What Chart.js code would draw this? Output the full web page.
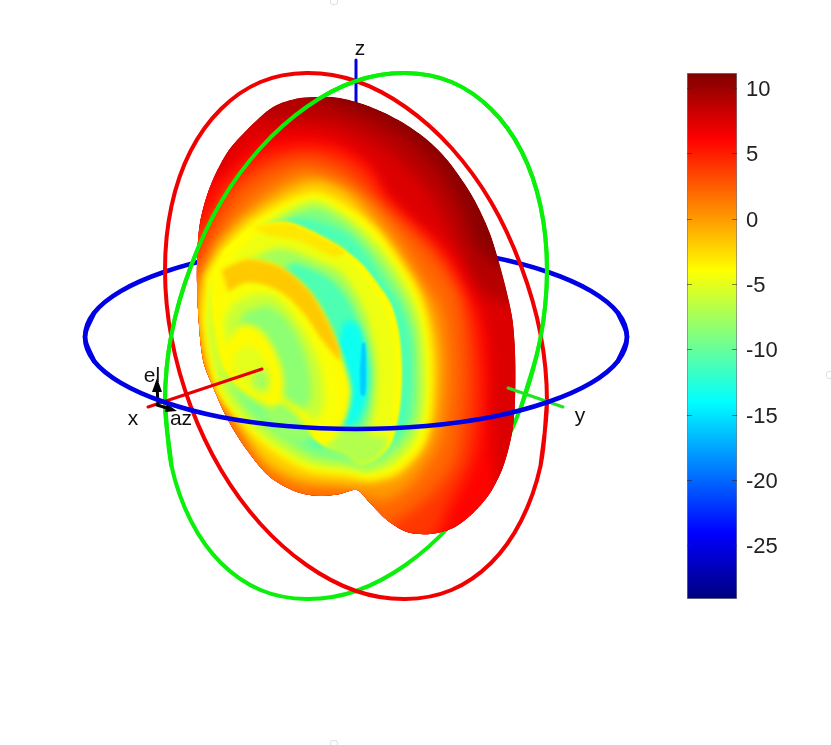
<!DOCTYPE html>
<html><head><meta charset="utf-8">
<script src="https://cdn.jsdelivr.net/npm/chart.js@4/dist/chart.umd.js"></script>
<style>html,body{margin:0;background:#fff}#w{position:relative;width:831px;height:745px;overflow:hidden}canvas{position:absolute}</style>
</head><body><div id="w"><canvas id="main" width="831" height="745" style="left:0;top:0"></canvas><canvas id="bar" width="131" height="560" style="left:670px;top:55px"></canvas></div>
<script>
// colour bar
const colorRange = [-29.1, 11.15];
const colorTicks = [10, 5, 0, -5, -10, -15, -20, -25];
// reference rings and axes of the 3D plot
const redRing = [[547,402],[540.5,466],[521,521],[491,563],[451.5,590],[405.5,599],[356,591],[306.5,565],[260.5,524],[221,470],[190.6,406],[171.5,338],[165,270],[171.5,206],[190.6,151],[221,109],[260.5,82],[306.5,73],[356,81],[405.5,107],[451.5,148],[491,202],[521,266],[540.5,334],[547,402],[540.5,466]];
const greenRing = [[165,402],[171.5,466],[191,521],[221,563],[260.5,590],[306.5,599],[356,591],[405.5,565],[451.5,524],[491,470],[521.4,406],[540.5,338],[547,270],[540.5,206],[521.4,151],[491,109],[451.5,82],[405.5,73],[356,81],[306.5,107],[260.5,148],[221,202],[191,266],[171.5,334],[165,402],[171.5,466]];
const greenFront = [[171.5,466],[165,402],[171.5,334],[191,266],[221,202],[260.5,148],[306.5,107],[356,81],[405.5,73],[451.5,82],[491,109],[521.4,151],[540.5,206],[547,270],[540.5,338],[521.4,406]];
const blueBack = [[94,361],[85,337],[94,313],[121,291],[164,272],[220.5,257],[286,248],[356,245],[426,248],[491.5,257],[548,272],[591,291],[618,313],[627,337],[618,361]];
const blueFront = [[618,313],[627,337],[618,361],[591,383],[548,402],[491.5,417],[426,426],[356,429],[286,426],[220.5,417],[164,402],[121,383],[94,361],[85,337],[94,313]];
const axisX = [[148,407],[262,369]];
const axisY = [[508,388],[563,407]];
const axisZ = [[356,60],[356,104]];
const arrowEl = [[158,405],[157,385]];
const arrowElHead = [[157,378],[152,392],[162,392]];
const arrowAz = [[157,405],[170,409]];
const arrowAzHead = [[177,411],[167,404],[165,412]];
const handles = [[334,1],[334,744],[830,375]];
const axisLabels = [["z",360,49],["x",133,419],["y",580,416],["el",152,376],["az",181,419]];
// radiation-pattern surface: outline then contour regions (dB level, outline)
const silhouette = [[300,98],[333,97],[357,102],[383,112],[407,125],[430,142],[450,163],[473,197],[490,233],[503,277],[512,317],[515,353],[515,400],[512,433],[503,467],[490,493],[473,513],[453,528],[430,534],[407,532],[387,520],[370,503],[357,490],[340,494],[320,496],[297,492],[270,477],[247,450],[228,420],[213,387],[203,360],[198,310],[197,263],[200,223],[210,187],[227,153],[247,130],[273,107],[300,98],[333,97]];
const c9 = [[180,60],[300,90],[340,106],[380,122],[415,145],[440,172],[460,205],[478,250],[530,290],[560,560],[180,560]];
const c75 = [[180,90],[260,118],[310,120],[340,125],[380,145],[410,170],[435,200],[455,240],[480,290],[530,320],[560,560],[180,560]];
const c6 = [[180,150],[213,178],[250,145],[290,135],[330,140],[365,160],[393,200],[447,250],[470,290],[484,320],[490,360],[490,410],[495,480],[520,560],[180,560]];
const c4 = [[180,230],[199,225],[225,185],[260,158],[300,148],[335,152],[368,172],[385,200],[438,250],[462,290],[474,320],[480,370],[480,410],[472,460],[450,505],[425,545],[180,560]];
const c2 = [[180,262],[199,262],[210,235],[235,195],[270,170],[305,160],[340,170],[375,200],[427,250],[455,290],[462,320],[465,370],[463,410],[455,460],[430,495],[405,515],[378,530],[180,560]];
const c0 = [[197,290],[212,250],[240,215],[270,190],[305,174],[340,183],[365,200],[395,235],[420,275],[440,310],[447,360],[445,410],[435,450],[410,485],[385,500],[365,497],[345,490],[300,487],[265,468],[240,428],[222,395],[205,360],[194,310]];
const cm2 = [[203,280],[220,245],[250,215],[310,182],[345,193],[375,225],[403,262],[425,300],[437,350],[435,410],[425,445],[400,475],[370,483],[345,483],[300,478],[265,460],[232,415],[215,385],[204,350],[199,310]];
const cm4 = [[206,275],[223,250],[257,218],[313,192],[350,208],[377,230],[397,257],[417,290],[427,320],[432,360],[431,410],[423,445],[397,472],[370,480],[350,476],[307,470],[267,447],[236,417],[217,392],[208,360],[202,320]];
const cm6 = [[212,290],[228,258],[258,228],[313,200],[347,216],[372,238],[392,263],[411,295],[421,325],[425,365],[424,410],[415,440],[392,465],[368,473],[350,470],[310,464],[272,443],[243,417],[224,392],[214,362],[208,325]];
const cm9 = [[230,252],[260,234],[313,208],[345,223],[368,245],[387,270],[405,300],[415,330],[418,365],[417,410],[408,436],[388,457],[366,467],[345,462],[312,456],[280,436],[252,415],[235,392],[224,362],[218,325],[220,290]];
const cm11 = [[268,228],[300,218],[345,232],[365,252],[382,278],[400,305],[410,335],[412,368],[410,410],[402,432],[384,450],[362,460],[340,452],[312,445],[290,430],[270,412],[262,390],[260,300]];
const ridge1a = [[224,250],[252,227],[270,223],[288,222],[305,228],[325,238],[345,250],[362,264],[378,284],[391,304],[399,332],[402,370],[400,408],[392,442],[378,458],[360,465],[346,453],[322,445],[298,420],[270,400],[240,375],[220,340],[212,305],[214,272]];
const ridge1top = [[252,228],[270,224],[288,223],[305,229],[325,239],[345,251],[335,257],[300,241],[270,236]];
const ridge1b = [[232,258],[255,236],[285,230],[320,243],[345,256],[368,282],[383,305],[393,335],[396,370],[394,405],[388,437],[375,453],[358,458],[345,447],[322,438],[295,415],[268,395],[240,365],[226,335],[220,300]];
const ridge1c = [[245,262],[280,248],[320,262],[340,272],[355,292],[366,315],[374,345],[377,370],[375,405],[370,428],[362,440],[345,436],[322,430],[295,408],[268,388],[245,360],[232,330],[230,290]];
const ridge1d = [[295,262],[325,275],[342,290],[355,312],[364,340],[370,370],[368,405],[360,428],[345,428],[320,420],[295,398],[275,370],[262,320],[265,280]];
const ridge1foot = [[322,447],[345,456],[360,466],[378,458],[388,440],[370,435],[345,432]];
const cyanBand = [[345,320],[358,325],[366,350],[368,380],[364,405],[352,425],[335,420],[335,350]];
const cyanStreak = [[362,343],[365,343],[366,370],[365,395],[361,395],[360,370]];
const ridge2a = [[218,275],[222,268],[245,259],[265,261],[285,270],[308,290],[323,312],[335,338],[345,365],[351,390],[347,415],[338,432],[325,442],[312,438],[295,420],[268,395],[240,385],[220,360],[212,320]];
const ridge2top = [[222,270],[245,260],[265,262],[285,270],[308,290],[323,313],[338,345],[340,360],[322,340],[305,315],[285,295],[265,285],[245,283],[228,292]];
const ridge2b = [[225,285],[245,270],[265,272],[285,282],[303,302],[318,325],[329,350],[337,380],[338,410],[330,428],[318,430],[300,412],[272,392],[242,378],[225,355],[218,320]];
const ridge2c = [[232,305],[250,295],[270,294],[285,305],[300,325],[314,350],[322,375],[324,405],[315,420],[298,405],[272,385],[245,370],[228,345],[224,320]];
const ridge2d = [[245,312],[268,306],[285,318],[298,338],[308,365],[311,395],[305,408],[285,398],[265,385],[240,365],[235,330]];
const ridge2foot = [[262,400],[285,405],[305,425],[310,440],[290,440],[265,420]];
const ridge3a = [[225,345],[240,325],[258,328],[272,345],[282,370],[283,392],[274,407],[255,400],[235,385],[222,365]];
const ridge3b = [[235,352],[250,345],[262,355],[270,375],[270,392],[262,395],[245,385],[232,370]];
const ridge3c = [[255,370],[266,372],[268,385],[262,392],[252,385]];
const surfaceLevels = [
 [10.6,silhouette,0],[9,c9,7],[7.5,c75,7],[6,c6,7],[4,c4,7],[2,c2,7],[0,c0,6],[-2,cm2,4],[-4,cm4,3.5],[-6.5,cm6,3],[-9,cm9,3],[-11,cm11,3],
 [-3.9,ridge1a,1],[-4.6,ridge1b,2.5],[-3,ridge1top,2],[-7.5,ridge1c,3],[-11,ridge1d,3],[-7,ridge1foot,3],[-13.5,cyanBand,3],[-16,cyanStreak,1],
 [-3.8,ridge2a,2.5],[-4.2,ridge2b,3],[-1.8,ridge2top,2],[-6,ridge2c,3],[-8.5,ridge2d,3.5],[-8,ridge2foot,3],
 [-3.8,ridge3a,3],[-5,ridge3b,3],[-7.5,ridge3c,3]
];

function jet(v){
  const t=(v-colorRange[0])/(colorRange[1]-colorRange[0]);
  const f=x=>Math.round(255*Math.max(0,Math.min(1,x)));
  return `rgb(${f(1.5-Math.abs(4*t-3))},${f(1.5-Math.abs(4*t-2))},${f(1.5-Math.abs(4*t-1))})`;
}
const pts=a=>a.map(p=>({x:p[0],y:p[1]}));
const datasets=[];
function line(a,color,w,t){datasets.push({data:pts(a),showLine:true,fill:false,borderColor:color,borderWidth:w,pointRadius:0,tension:t||0,borderCapStyle:'round'});}
function solid(a,color,blur,clip,t){datasets.push({data:pts(a),showLine:true,fill:false,borderColor:'rgba(0,0,0,0)',borderWidth:0,pointRadius:0,tension:t,solidFill:color,blurPx:blur,clipSurface:clip});}

datasets.push({data:pts(handles),showLine:false,pointStyle:'rectRounded',pointRadius:4,backgroundColor:'#fff',borderColor:'#ddd',borderWidth:1});
line(blueBack,'#0000e6',4.5,0.34);
line(greenRing,'#0af00a',4,0.34);
line(redRing,'#f00000',4,0.34);
line(axisZ,'#0000e6',3);
const surfaceStart=datasets.length;
surfaceLevels.forEach(l=>solid(l[1],jet(l[0]),l[2],true,0.3));
line(greenFront,'#0af00a',4,0.34);
line(axisX,'#e60000',3);
line(axisY,'#1ee61e',3);
line(arrowEl,'#000',3);
solid(arrowElHead,'#000',0,false,0);
line(arrowAz,'#000',3);
solid(arrowAzHead,'#000',0,false,0);
line(blueFront,'#0000e6',4.5,0.34);
datasets.forEach((d,i)=>d.order=datasets.length-i);

const surfacePlugin={id:'surface',
  beforeDatasetDraw(chart,args){
    const ds=chart.data.datasets[args.index]; if(!ds.solidFill) return;
    const ctx=chart.ctx,line=args.meta.dataset;
    ctx.save();
    if(ds.clipSurface){
      const outline=chart.getDatasetMeta(surfaceStart).dataset;
      outline.updateControlPoints(chart.chartArea,'x');
      ctx.beginPath(); outline.path(ctx); ctx.closePath(); ctx.clip();
    }
    if(ds.blurPx) ctx.filter=`blur(${ds.blurPx}px)`;
    line.updateControlPoints(chart.chartArea,'x');
    ctx.beginPath(); line.path(ctx); ctx.closePath();
    ctx.fillStyle=ds.solidFill; ctx.fill();
    ctx.restore();
  },
  afterDatasetsDraw(chart){
    const ctx=chart.ctx,xs=chart.scales.x,ys=chart.scales.y;
    ctx.save(); ctx.font='21px "Liberation Sans"'; ctx.fillStyle='#111'; ctx.textAlign='center'; ctx.textBaseline='middle';
    axisLabels.forEach(l=>ctx.fillText(l[0],xs.getPixelForValue(l[1]),ys.getPixelForValue(l[2])));
    ctx.restore();
  }};
new Chart(document.getElementById('main'),{type:'scatter',data:{datasets},plugins:[surfacePlugin],
 options:{responsive:false,animation:false,events:[],layout:{padding:0,autoPadding:false},
  plugins:{legend:{display:false},tooltip:{enabled:false}},
  scales:{x:{type:'linear',min:0,max:831,display:false},y:{type:'linear',min:0,max:745,reverse:true,display:false}}}});

const tickMarks={id:'tickMarks',afterDatasetsDraw(chart){
  const ctx=chart.ctx,a=chart.chartArea,y=chart.scales.y;
  ctx.save(); ctx.strokeStyle='rgba(60,30,30,.55)'; ctx.lineWidth=1;
  colorTicks.forEach(t=>{const Y=Math.round(y.getPixelForValue(t))+.5;
    ctx.beginPath();ctx.moveTo(a.left,Y);ctx.lineTo(a.left+5,Y);ctx.moveTo(a.right-5,Y);ctx.lineTo(a.right,Y);ctx.stroke();});
  ctx.restore();
}};
new Chart(document.getElementById('bar'),{type:'bar',plugins:[tickMarks],
 data:{labels:['dB'],datasets:[{data:[colorRange],barPercentage:1,categoryPercentage:1,borderWidth:1,borderColor:'rgba(90,90,100,.8)',borderSkipped:false,
   backgroundColor(c){const a=c.chart.chartArea; if(!a) return '#888';
     const g=c.chart.ctx.createLinearGradient(0,a.bottom,0,a.top);
     for(let i=0;i<=64;i++){const u=i/64;g.addColorStop(u,jet(colorRange[0]+u*(colorRange[1]-colorRange[0])));}
     return g;}}]},
 options:{responsive:false,animation:false,events:[],layout:{autoPadding:false,padding:{left:17,top:18,bottom:16,right:0}},
  plugins:{legend:{display:false},tooltip:{enabled:false}},
  scales:{x:{display:false},
   y:{position:'right',min:colorRange[0],max:colorRange[1],border:{display:false},grid:{display:false},
     afterBuildTicks(ax){ax.ticks=colorTicks.map(v=>({value:v}));},
     afterFit(ax){ax.width=131-17-50;},
     ticks:{color:'#222',padding:1,labelOffset:2,font:{family:'"Liberation Sans"',size:22},autoSkip:false,maxRotation:0,callback:v=>String(v)}}}}});
</script></body></html>
